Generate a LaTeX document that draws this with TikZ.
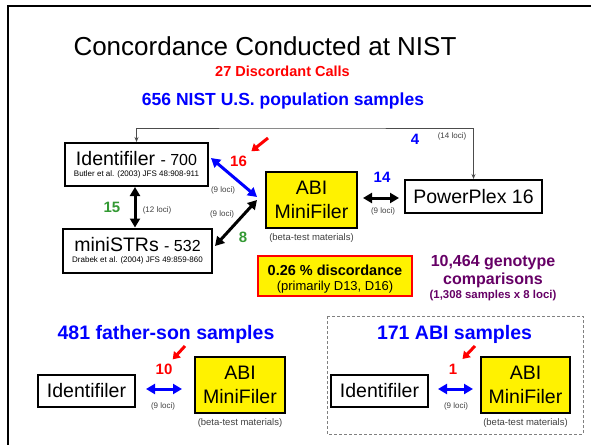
\documentclass[tikz,border=0pt]{standalone}
\usepackage{fontspec}
\setmainfont{Liberation Sans}
\usetikzlibrary{arrows.meta,positioning}
\definecolor{nistgreen}{RGB}{51,153,51}
\definecolor{nistpurple}{RGB}{102,0,102}
\definecolor{locigray}{RGB}{64,64,64}

\begin{document}
\begin{tikzpicture}[x=1pt, y=-1pt,
  kit/.style = {draw, line width=2pt, fill=white, inner sep=0pt, align=center, font=\fontsize{19.5}{23.5}\selectfont},
  abi/.style = {kit, fill=yellow, minimum width=90pt, minimum height=56pt},
  loci/.style = {text=locigray, inner sep=0pt, anchor=base, font=\fontsize{8}{10}\selectfont},
  beta/.style = {text=locigray, inner sep=1pt, font=\fontsize{9.5}{11}\selectfont},
  num/.style = {inner sep=1pt, anchor=base, font=\fontsize{15}{18}\selectfont\bfseries},
  sethead/.style = {blue, anchor=base, font=\fontsize{19.5}{23}\selectfont\bfseries},
  dbl/.style = {line width=3pt, {Triangle[length=9pt,width=10pt]}-{Triangle[length=9pt,width=10pt]}},
  hint/.style = {red, line width=3pt, -{Triangle[length=7pt,width=9pt]}}]
  \useasboundingbox (0,0) rectangle (591,444);
  \draw[line width=2pt] (8,450) -- (8,6) -- (596,6);

  \node[anchor=base, font=\fontsize{26}{30}\selectfont] (title) at (265,56) {Concordance Conducted at NIST};
  \node[anchor=base, red, font=\fontsize{14.5}{17}\selectfont\bfseries] (calls) at (282.5,77) {27 Discordant Calls};
  \node[anchor=base, blue, font=\fontsize{17.5}{20}\selectfont\bfseries] (pop) at (283,105.5) {656 NIST U.S. population samples};

  \node[kit, minimum width=143pt, minimum height=43pt] (id) at (136.5,164.5)
    {Identifiler {\fontsize{16}{19}\selectfont - 700}\\[-12.5pt]{\fontsize{8}{10}\selectfont Butler et al. (2003) JFS 48:908-911}};
  \node[kit, minimum width=149pt, minimum height=44pt] (ms) at (137.5,250.5)
    {miniSTRs {\fontsize{16}{19}\selectfont - 532}\\[-12.5pt]{\fontsize{8}{10}\selectfont Drabek et al. (2004) JFS 49:859-860}};
  \node[abi, minimum width=91pt] (abi) at (311.5,200) {ABI\\MiniFiler};
  \node[beta, below=3pt of abi] (betaA) {(beta-test materials)};
  \node[kit, minimum width=137pt, minimum height=33pt] (pp) at (473.5,196.5) {PowerPlex 16};

  \coordinate (bar) at (300,128);
  \draw[gray!60!black, line width=0.8pt, {Stealth[length=5pt,width=4pt]}-{Stealth[length=5pt,width=4pt]}] (id.north) |- (bar) -| (pp.north);
  \node[num, blue] (n4) at (415,144) {4};
  \node[loci] (l14) at (452,138) {(14 loci)};

  \draw[dbl, blue] ([xshift=2pt,yshift=6.5pt]id.east) -- ([xshift=-8pt,yshift=3pt]abi.west);
  \node[loci] (lb) at (223,192.5) {(9 loci)};
  \node[num, red] (n16) at (238.5,166.7) {16};
  \coordinate (h16) at (268,138);
  \draw[hint, shorten >=6pt] (h16) -- (n16);

  \draw[dbl] ([xshift=-8pt]abi.west) -- ([xshift=2pt,yshift=4.5pt]ms.east);
  \node[loci] (lk) at (222,216) {(9 loci)};
  \node[num, nistgreen] (n8) at (243,242) {8};

  \draw[dbl] ([xshift=-1.5pt]id.south) -- ([xshift=-1.5pt]id.south |- ms.north);
  \node[num, nistgreen] (n15) at (112,212) {15};
  \node[loci] (l12) at (157,212) {(12 loci)};

  \draw[dbl, shorten <=5pt, shorten >=5pt] ([yshift=2pt]abi.east) -- ([yshift=2pt]abi.east -| pp.west);
  \node[num, blue] (n14) at (382,182) {14};
  \node[loci] (lp) at (383,213) {(9 loci)};

  \node[kit, draw=red, fill=yellow, minimum width=154pt, minimum height=40pt] (disc) at (335,275.5)
    {\rule{0pt}{17.5pt}{\fontsize{14.5}{17}\selectfont\bfseries 0.26 \% discordance}\\[-8.5pt]{\fontsize{13}{15}\selectfont (primarily D13, D16)}};
  \node[nistpurple, inner sep=0pt, align=center, font=\fontsize{16}{18}\selectfont\bfseries] (comp) at (493,278.5)
    {10,464 genotype\\comparisons\\[-4pt]{\fontsize{11.4}{13}\selectfont (1,308 samples x 8 loci)}};

  \node[sethead] (fs) at (166,339) {481 father-son samples};
  \node[kit, minimum width=97pt, minimum height=32pt] (idL) at (86.5,391) {Identifiler};
  \node[abi] (abiL) at (240,385) {ABI\\MiniFiler};
  \node[beta, below=3pt of abiL] (betaL) {(beta-test materials)};
  \draw[dbl, blue, shorten <=10pt, shorten >=12pt] ([yshift=2pt]idL.east) -- ([yshift=2pt]idL.east -| abiL.west);
  \node[loci] (lL) at (163,408) {(9 loci)};
  \node[num, red] (n10) at (164,374) {10};
  \coordinate (h10) at (185,346);
  \draw[hint, shorten >=4pt] (h10) -- (n10);

  \draw[gray, densely dashed, line width=0.6pt] (327,316) rectangle (583,434);
  \node[sethead] (abs) at (454.5,339) {171 ABI samples};
  \node[kit, minimum width=97pt, minimum height=32pt] (idR) at (379.5,391) {Identifiler};
  \node[abi, minimum width=89pt] (abiR) at (525.5,385) {ABI\\MiniFiler};
  \node[beta, below=3pt of abiR] (betaR) {(beta-test materials)};
  \draw[dbl, blue, shorten <=9pt, shorten >=7pt] ([yshift=2pt]idR.east) -- ([yshift=2pt]idR.east -| abiR.west);
  \node[loci] (lR) at (456,408) {(9 loci)};
  \node[num, red] (n1) at (453,374) {1};
  \coordinate (h1) at (475,346);
  \draw[hint, shorten >=6pt] (h1) -- (n1);
\end{tikzpicture}
\end{document}
